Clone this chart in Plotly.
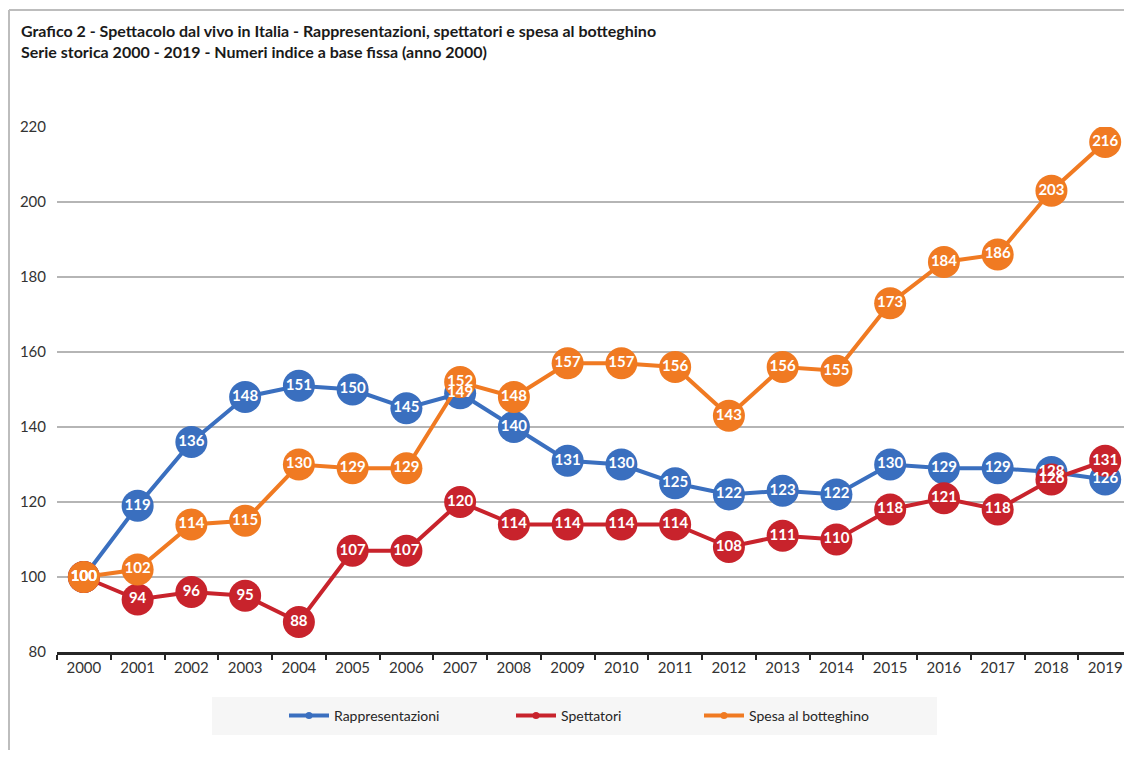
import plotly.graph_objects as go

# Data
anni = [str(a) for a in range(2000, 2020)]
rappresentazioni = [100, 119, 136, 148, 151, 150, 145, 149, 140, 131, 130, 125, 122, 123, 122, 130, 129, 129, 128, 126]
spettatori = [100, 94, 96, 95, 88, 107, 107, 120, 114, 114, 114, 114, 108, 111, 110, 118, 121, 118, 126, 131]
spesa = [100, 102, 114, 115, 130, 129, 129, 152, 148, 157, 157, 156, 143, 156, 155, 173, 184, 186, 203, 216]

serie = [
    ("Rappresentazioni", rappresentazioni, "#3A6FBF", "legend"),
    ("Spettatori", spettatori, "#C8232C", "legend2"),
    ("Spesa al botteghino", spesa, "#F07A22", "legend3"),
]

FONT = "Lato"
OFF = 8  # page body margin
W, H = 1132 - 2 * OFF, 758 - 2 * OFF
L, R, T = 57 - OFF, 0, 127 - OFF
B = H - (652 - OFF)
pw, ph = W - L - R, H - T - B


# reference pixel -> paper coords
def px(x):
    return (x - OFF - L) / pw


def py(y):
    return (652 - y) / ph


fig = go.Figure()

# lines + markers
for nome, vals, col, _ in serie:
    fig.add_trace(go.Scatter(
        x=anni, y=vals, mode="lines+markers", name=nome,
        line=dict(color=col, width=4),
        marker=dict(color=col, size=32),
        showlegend=False, hoverinfo="skip",
    ))

# data labels on top of all markers
for nome, vals, col, _ in serie:
    fig.add_trace(go.Scatter(
        x=anni, y=vals, mode="text", text=[str(v) for v in vals],
        textfont=dict(family=FONT, size=15, color="white", weight="bold"),
        showlegend=False, hoverinfo="skip",
    ))

# legend entries
for nome, vals, col, lg in serie:
    fig.add_trace(go.Scatter(
        x=[None], y=[None], mode="lines+markers", name=nome,
        line=dict(color=col, width=4), marker=dict(color=col, size=7),
        legend=lg,
    ))

leg_x = [284, 511, 699]
leg_common = dict(orientation="h", yanchor="middle", y=py(716), xanchor="left",
                  bgcolor="rgba(0,0,0,0)", font=dict(family=FONT, size=14, color="#262626"),
                  itemwidth=40)

fig.update_layout(
    width=W, height=H,
    margin=dict(l=L, r=R, t=T, b=B),
    paper_bgcolor="white", plot_bgcolor="white",
    font=dict(family=FONT, size=15, color="#404040"),
    annotations=[dict(
        text="Grafico 2 - Spettacolo dal vivo in Italia - Rappresentazioni, spettatori e spesa al botteghino<br>"
             "Serie storica 2000 - 2019 - Numeri indice a base fissa (anno 2000)",
        font=dict(family=FONT, size=16, color="#1a1a1a", weight="bold"),
        xref="paper", yref="paper", x=px(19), y=py(19),
        xanchor="left", yanchor="top", align="left", showarrow=False,
    )],
    xaxis=dict(
        type="category", range=[-0.5, 19.35], showgrid=False,
        showline=True, linecolor="#262626", linewidth=2.5,
        ticks="outside", tickson="boundaries", ticklen=5, tickwidth=2, tickcolor="#262626",
        tickfont=dict(family=FONT, size=15, color="#333333"),
        fixedrange=True,
    ),
    yaxis=dict(
        range=[80, 220], dtick=20, showgrid=True, gridcolor="#b5b5b5", gridwidth=1.5,
        zeroline=False, showline=False, ticks="",
        tickfont=dict(family=FONT, size=15, color="#333333"),
        ticklabelstandoff=10, fixedrange=True,
    ),
    legend=dict(x=px(leg_x[0]), **leg_common),
    legend2=dict(x=px(leg_x[1]), **leg_common),
    legend3=dict(x=px(leg_x[2]), **leg_common),
    shapes=[
        # legend background
        dict(type="rect", xref="paper", yref="paper", x0=px(212), x1=px(937), y0=py(735), y1=py(697),
             fillcolor="#f6f6f6", line=dict(width=0), layer="below"),
        # chart frame (left and top border)
        dict(type="line", xref="paper", yref="paper", x0=px(9), x1=px(9), y0=py(10), y1=py(760),
             line=dict(color="#bdbdbd", width=2)),
        dict(type="line", xref="paper", yref="paper", x0=px(9), x1=px(1140), y0=py(10), y1=py(10),
             line=dict(color="#bdbdbd", width=2)),
    ],
    hovermode=False,
)

fig.write_html("out.html")
